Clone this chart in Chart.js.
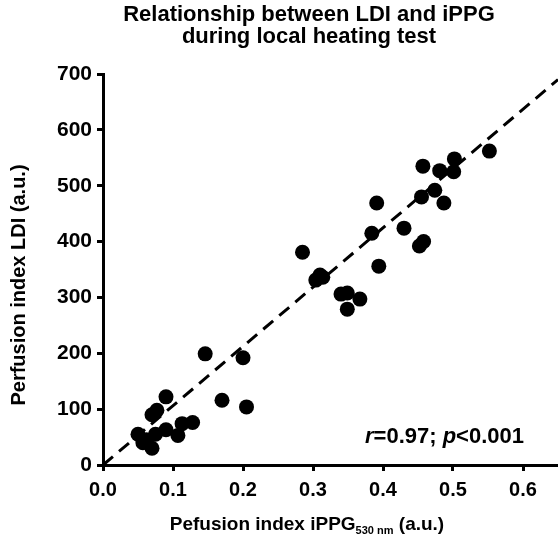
<!DOCTYPE html>
<html>
<head>
<meta charset="utf-8">
<script src="https://cdn.jsdelivr.net/npm/chart.js@4/dist/chart.umd.min.js"></script>
<style>
html,body{margin:0;padding:0;background:#fff;}
#wrap{width:558px;height:538px;position:relative;}
</style>
</head>
<body>
<div id="wrap"><canvas id="c" width="558" height="538"></canvas></div>
<script>
// Data
const ippg = [0.050, 0.057, 0.062, 0.070, 0.075, 0.070, 0.077, 0.090, 0.090, 0.107, 0.113, 0.128,
              0.146, 0.200, 0.170, 0.205,
              0.285, 0.304, 0.310, 0.314, 0.340, 0.349, 0.367, 0.349, 0.384, 0.394,
              0.391, 0.430, 0.452, 0.458, 0.455, 0.474, 0.487, 0.457, 0.481, 0.501, 0.502, 0.552];
const ldi  = [55, 40, 45, 30, 55, 90, 98, 122, 63, 53, 74, 76,
              199, 192, 116, 104,
              381, 331, 340, 336, 306, 308, 297, 279, 415, 356,
              469, 424, 392, 400, 480, 492, 469, 535, 527, 525, 548, 562];
const fitX = [0, 0.65];
const fitY = [0, 690];
const xTicks = [0, 0.1, 0.2, 0.3, 0.4, 0.5, 0.6];
const yTicks = [0, 100, 200, 300, 400, 500, 600, 700];
const titleLines = ['Relationship between LDI and iPPG', 'during local heating test'];
const xTitle = ['Pefusion index iPPG', '530 nm', ' (a.u.)'];
const yTitle = 'Perfusion index LDI (a.u.)';

const FONT = "'Liberation Sans', Arial, Helvetica, sans-serif";

const textPlugin = {
  id: 'texts',
  afterDraw(chart) {
    const ctx = chart.ctx;
    ctx.save();
    ctx.fillStyle = '#000';
    // title
    ctx.font = 'bold 22px ' + FONT;
    ctx.textAlign = 'center';
    ctx.textBaseline = 'middle';
    ctx.fillText(titleLines[0], 309, 15);
    ctx.fillText(titleLines[1], 309, 37);
    // x title with subscript
    const big = 'bold 19px ' + FONT, small = 'bold 11px ' + FONT;
    ctx.font = big; const w1 = ctx.measureText(xTitle[0]).width;
    const w3 = ctx.measureText(xTitle[2]).width;
    ctx.font = small; const w2 = ctx.measureText(xTitle[1]).width;
    let x = 307 - (w1 + w2 + w3) / 2;
    const yb = 530;
    ctx.textAlign = 'left';
    ctx.textBaseline = 'alphabetic';
    ctx.font = big; ctx.fillText(xTitle[0], x, yb); x += w1;
    ctx.font = small; ctx.fillText(xTitle[1], x, yb + 4); x += w2;
    ctx.font = big; ctx.fillText(xTitle[2], x, yb);
    // y title
    ctx.save();
    ctx.translate(19, 285);
    ctx.rotate(-Math.PI / 2);
    ctx.textAlign = 'center';
    ctx.textBaseline = 'middle';
    ctx.font = 'bold 20px ' + FONT;
    ctx.fillText(yTitle, 0, 0);
    ctx.restore();
    // annotation r / p
    const parts = [['r', true], ['=0.97; ', false], ['p', true], ['<0.001', false]];
    ctx.textBaseline = 'middle';
    ctx.textAlign = 'left';
    let ax = 365;
    for (const [t, it] of parts) {
      ctx.font = (it ? 'italic ' : '') + 'bold 22px ' + FONT;
      ctx.fillText(t, ax, 437);
      ax += ctx.measureText(t).width;
    }
    ctx.restore();
  }
};

const pts = ippg.map((v, i) => ({x: v, y: ldi[i]}));
const fit = fitX.map((v, i) => ({x: v, y: fitY[i]}));

new Chart(document.getElementById('c'), {
  type: 'scatter',
  data: {
    datasets: [
      {
        data: fit, showLine: true, borderColor: '#000', borderWidth: 3,
        borderDash: [13, 8], pointRadius: 0, fill: false, order: 2, clip: false
      },
      {
        data: pts, pointRadius: 7.5, pointHoverRadius: 7.5,
        backgroundColor: '#000', borderColor: '#000', borderWidth: 0, order: 1
      }
    ]
  },
  options: {
    responsive: false,
    animation: false,
    events: [],
    layout: { autoPadding: false, padding: { top: 74, right: 0, left: 0, bottom: 0 } },
    plugins: { legend: { display: false }, tooltip: { enabled: false }, title: { display: false } },
    scales: {
      x: {
        type: 'linear', min: 0, max: 0.65,
        afterBuildTicks(s) { s.ticks = xTicks.map(v => ({value: v})); },
        afterFit(s) { s.height = 73; s.paddingLeft = 0; s.paddingRight = 0; },
        border: { display: true, color: '#000', width: 3 },
        grid: { drawOnChartArea: false, drawTicks: true, tickLength: 6, tickWidth: 3, tickColor: '#000' },
        ticks: {
          color: '#000', padding: 7,
          font: { family: FONT, size: 20, weight: 'bold' },
          callback: v => Number(v).toFixed(1)
        }
      },
      y: {
        type: 'linear', min: 0, max: 700,
        afterBuildTicks(s) { s.ticks = yTicks.map(v => ({value: v})); },
        afterFit(s) { s.width = 103; s.paddingTop = 0; s.paddingBottom = 0; },
        border: { display: true, color: '#000', width: 3 },
        grid: { drawOnChartArea: false, drawTicks: true, tickLength: 6, tickWidth: 3, tickColor: '#000' },
        ticks: {
          color: '#000', padding: 5,
          font: { family: FONT, size: 21, weight: 'bold' },
          callback: v => String(v)
        }
      }
    }
  },
  plugins: [textPlugin]
});
</script>
</body>
</html>
